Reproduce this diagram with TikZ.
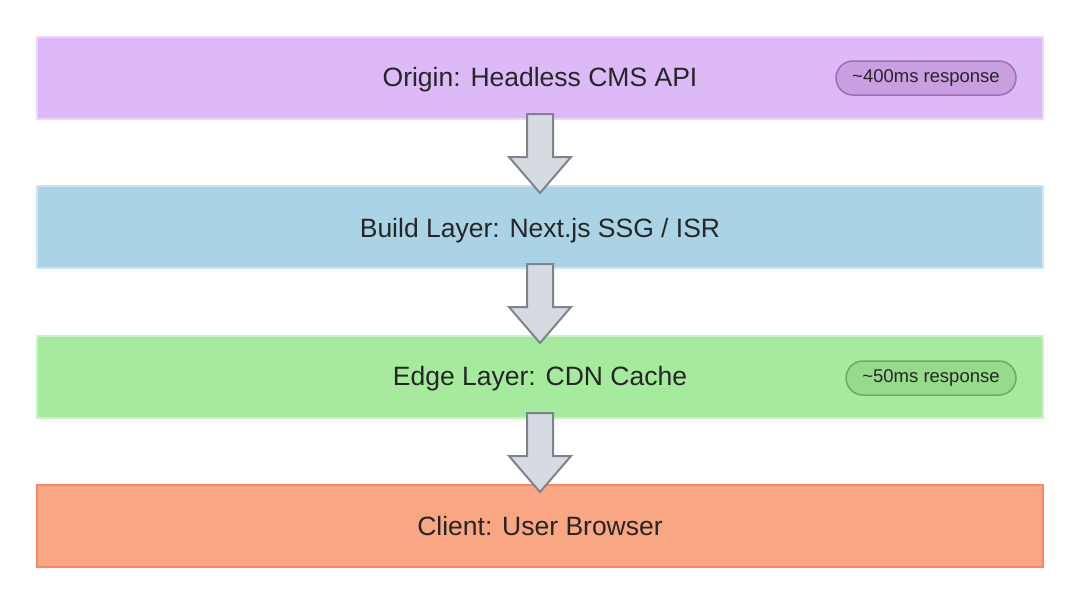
\documentclass[tikz,border=0pt]{standalone}
\usepackage{fontspec}
\setmainfont{Liberation Sans}
\begin{document}
\begin{tikzpicture}[x=1pt,y=-1pt,
  layer/.style={draw=#1!60!white,line width=2pt,minimum width=1006pt,minimum height=82pt,inner sep=0pt},
  lbl/.style={inner sep=0pt,font=\fontsize{26.5}{30}\selectfont,text=black!85},
  pill/.style={rounded corners=17pt,line width=1.5pt,minimum height=34pt,inner sep=0pt,font=\fontsize{18.5}{22}\selectfont,text=black!85},
  arr/.style={draw=arrowborder,fill=arrowfill,line width=2pt,line join=miter}]
\definecolor{cpurple}{HTML}{DDB9F7}
\definecolor{cblue}{HTML}{AAD3E6}
\definecolor{cgreen}{HTML}{A6EA9D}
\definecolor{corange}{HTML}{F9A683}
\definecolor{arrowfill}{HTML}{D6DAE1}
\definecolor{arrowborder}{HTML}{7E838D}
\definecolor{p1f}{HTML}{C99FE2}
\definecolor{p1d}{HTML}{9B6FB5}
\definecolor{p2f}{HTML}{96DA8B}
\definecolor{p2d}{HTML}{6EAA64}
\useasboundingbox (0,0) rectangle (1080,603);
\fill[white] (0,0) rectangle (1080,603);
\node[layer=cpurple,fill=cpurple] (o) at (540,78) {};
\node[layer=cblue,fill=cblue] (b) at (540,227) {};
\node[layer=cgreen,fill=cgreen] (e) at (540,376.5) {};
\node[layer=corange,fill=corange,draw=corange!80!red] (c) at (540,525.5) {};
\foreach \ya/\yb in {114/193, 264/343, 413/492}{
  \draw[arr] (527,\ya) -- (553,\ya) -- (553,\yb-36) -- (571,\yb-36) -- (540,\yb) -- (509,\yb-36) -- (527,\yb-36) -- cycle;
}
\node[lbl] (ot) at (540,80) {Origin: Headless CMS API};
\node[lbl] (bt) at (540,231) {Build Layer: Next.js SSG / ISR};
\node[lbl] (et) at (540,379) {Edge Layer: CDN Cache};
\node[lbl] (ct) at (540,526) {Client: User Browser};
\node[pill,fill=p1f,draw=p1d,minimum width=180pt] (p1) at (926,78) {\textasciitilde400ms response};
\node[pill,fill=p2f,draw=p2d,minimum width=170pt] (p2) at (931,378) {\textasciitilde50ms response};
\end{tikzpicture}
\end{document}
